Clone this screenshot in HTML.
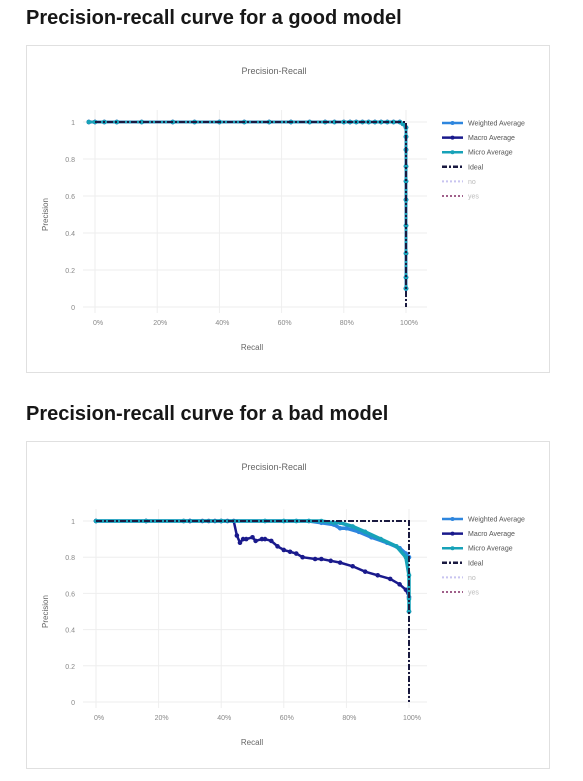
<!DOCTYPE html>
<html><head><meta charset="utf-8"><style>
body{margin:0;background:#fff;width:583px;height:781px;overflow:hidden;font-family:"Liberation Sans",sans-serif;position:relative}
h2{position:absolute;left:26px;margin:0;font-size:20px;font-weight:bold;color:#171717;letter-spacing:0px}
.card{position:absolute;left:26px;width:524px;border:1px solid #e0e0e0;box-sizing:border-box}
svg{position:absolute;left:0;top:0}
</style></head><body>
<h2 style="top:7px">Precision-recall curve for a good model</h2>
<div class="card" style="top:45px;height:328px"></div>
<h2 style="top:403px">Precision-recall curve for a bad model</h2>
<div class="card" style="top:441px;height:328px"></div>
<svg id="s" width="583" height="781"></svg>
<script>
// Good model data (recall, precision)
const goodRecall = [-0.02,0,0.03,0.07,0.15,0.25,0.32,0.4,0.48,0.56,0.63,0.69,0.74,0.77,0.8,0.82,0.84,0.86,0.88,0.9,0.92,0.94,0.96,0.98,0.99,1,1,1,1,1,1,1,1,1,1,1];
const goodPrec   = [1,1,1,1,1,1,1,1,1,1,1,1,1,1,1,1,1,1,1,1,1,1,1,1,0.99,0.97,0.92,0.85,0.76,0.68,0.58,0.44,0.29,0.16,0.1,0.1];
// Bad model
const badMacroR = [0,0.16,0.28,0.3,0.34,0.36,0.38,0.4,0.42,0.44,0.45,0.46,0.47,0.48,0.5,0.51,0.53,0.54,0.56,0.58,0.6,0.62,0.64,0.66,0.7,0.72,0.75,0.78,0.82,0.86,0.9,0.94,0.97,0.99,1,1];
const badMacroP = [1,1,1,1,1,1,1,1,1,1,0.92,0.88,0.9,0.9,0.91,0.89,0.9,0.9,0.89,0.86,0.84,0.83,0.82,0.8,0.79,0.79,0.78,0.77,0.75,0.72,0.7,0.68,0.65,0.62,0.58,0.5];
const badWeightedR = [0,0.16,0.3,0.4,0.54,0.6,0.64,0.68,0.72,0.76,0.78,0.8,0.84,0.88,0.93,0.97,0.99,1];
const badWeightedP = [1,1,1,1,1,1,1,1,0.99,0.98,0.96,0.96,0.94,0.91,0.88,0.85,0.82,0.8];
const badMicroR = [0,0.16,0.28,0.4,0.54,0.6,0.64,0.68,0.72,0.76,0.78,0.82,0.86,0.91,0.96,0.99,1,1,1];
const badMicroP = [1,1,1,1,1,1,1,1,1,0.99,0.99,0.97,0.94,0.9,0.86,0.8,0.7,0.57,0.5];
const idealR = [0,1,1];
const idealP = [1,1,0];
const xTicks = [0,0.2,0.4,0.6,0.8,1];
const xTickLabels = ["0%","20%","40%","60%","80%","100%"];
const yTicks = [0,0.2,0.4,0.6,0.8,1];
const yTickLabels = ["0","0.2","0.4","0.6","0.8","1"];
const legendNames = ["Weighted Average","Macro Average","Micro Average","Ideal","no","yes"];

const NS="http://www.w3.org/2000/svg", svg=document.getElementById('s');
function mk(t,a,p){const e=document.createElementNS(NS,t);for(const k in a)e.setAttribute(k,a[k]);(p||svg).appendChild(e);return e;}
function chart(cfg,series){
  const g=mk('g',{});
  
  
  const X=v=>cfg.x0+(cfg.x1-cfg.x0)*v, Y=v=>cfg.y0+(cfg.y1-cfg.y0)*v;
  const t=mk('text',{x:274,y:cfg.top+29,'text-anchor':'middle','font-size':9,fill:'#666'},g);t.textContent='Precision-Recall';
  
  yTicks.forEach((v,i)=>{mk('line',{x1:83,x2:427,y1:Y(v),y2:Y(v),stroke:'#eee'},g);
    const l=mk('text',{x:75,y:Y(v)+3,'text-anchor':'end','font-size':7,fill:'#888'},g);l.textContent=yTickLabels[i];
    });
  xTicks.forEach((v,i)=>{mk('line',{x1:X(v),x2:X(v),y1:cfg.y1-12,y2:cfg.y0+6,stroke:'#eee'},g);
    const l=mk('text',{x:X(v)+3,y:cfg.y0+18,'text-anchor':'middle','font-size':7,fill:'#888'},g);l.textContent=xTickLabels[i];
    });
  const xt=mk('text',{x:252,y:cfg.y0+43,'text-anchor':'middle','font-size':8,fill:'#666'},g);xt.textContent='Recall';
  
  const ym=(cfg.y0+cfg.y1)/2;
  const yt=mk('text',{x:48,y:ym,'text-anchor':'middle','font-size':8,fill:'#666',transform:`rotate(-90 48 ${ym})`},g);yt.textContent='Precision';
  
  series.forEach(s=>{
    const pts=s.r.map((r,i)=>X(r)+','+Y(s.p[i])).join(' ');
    const pl=mk('polyline',{points:pts,fill:'none',stroke:s.c,'stroke-width':s.w||2.5,'stroke-dasharray':s.d||'none'},g);
    
    if(s.m) s.r.forEach((r,i)=>{const c=mk('circle',{cx:X(r),cy:Y(s.p[i]),r:2.3,fill:s.c},g);
      });
  });
  const cols=['#2e86de','#1a1a8c','#17a2b8','#1a1a40','#c8c4f0','#a0608a'];
  legendNames.forEach((n,i)=>{const y=cfg.ly+i*14.6;
    const le=mk('g',{},g);
    const da=i==3?'5,2,2,2':(i>3?'2,2':'none');
    mk('line',{x1:442,x2:463,y1:y,y2:y,stroke:cols[i],'stroke-width':i>3?2:2.5,'stroke-dasharray':da},le);
    if(i<3)mk('circle',{cx:452.5,cy:y,r:2,fill:cols[i]},le);
    const tx=mk('text',{x:468,y:y+2.5,'font-size':7,fill:i>3?'#bbb':'#555'},le);tx.textContent=n;});
}
chart({name:'good-model-chart',top:45,x0:95,x1:406,y0:307,y1:122,ly:123},[
 {n:'weighted-average-line',r:goodRecall,p:goodPrec,c:'#2e86de',m:1},
 {n:'macro-average-line',r:goodRecall,p:goodPrec,c:'#1a1a8c',m:1},
 {n:'micro-average-line',r:goodRecall,p:goodPrec,c:'#17a2b8',m:1},
 {n:'ideal-line',r:idealR,p:idealP,c:'#1a1a40',w:2,d:'6,2,2,2'}]);
chart({name:'bad-model-chart',top:441,x0:96,x1:409,y0:702,y1:521,ly:519},[
 {n:'weighted-average-line',r:badWeightedR,p:badWeightedP,c:'#2e86de',m:1,w:3.5},
 {n:'macro-average-line',r:badMacroR,p:badMacroP,c:'#1a1a8c',m:1},
 {n:'micro-average-line',r:badMicroR,p:badMicroP,c:'#17a2b8',m:1,w:3.5},
 {n:'ideal-line',r:idealR,p:idealP,c:'#1a1a40',w:2,d:'6,2,2,2'}]);
</script>
</body></html>
